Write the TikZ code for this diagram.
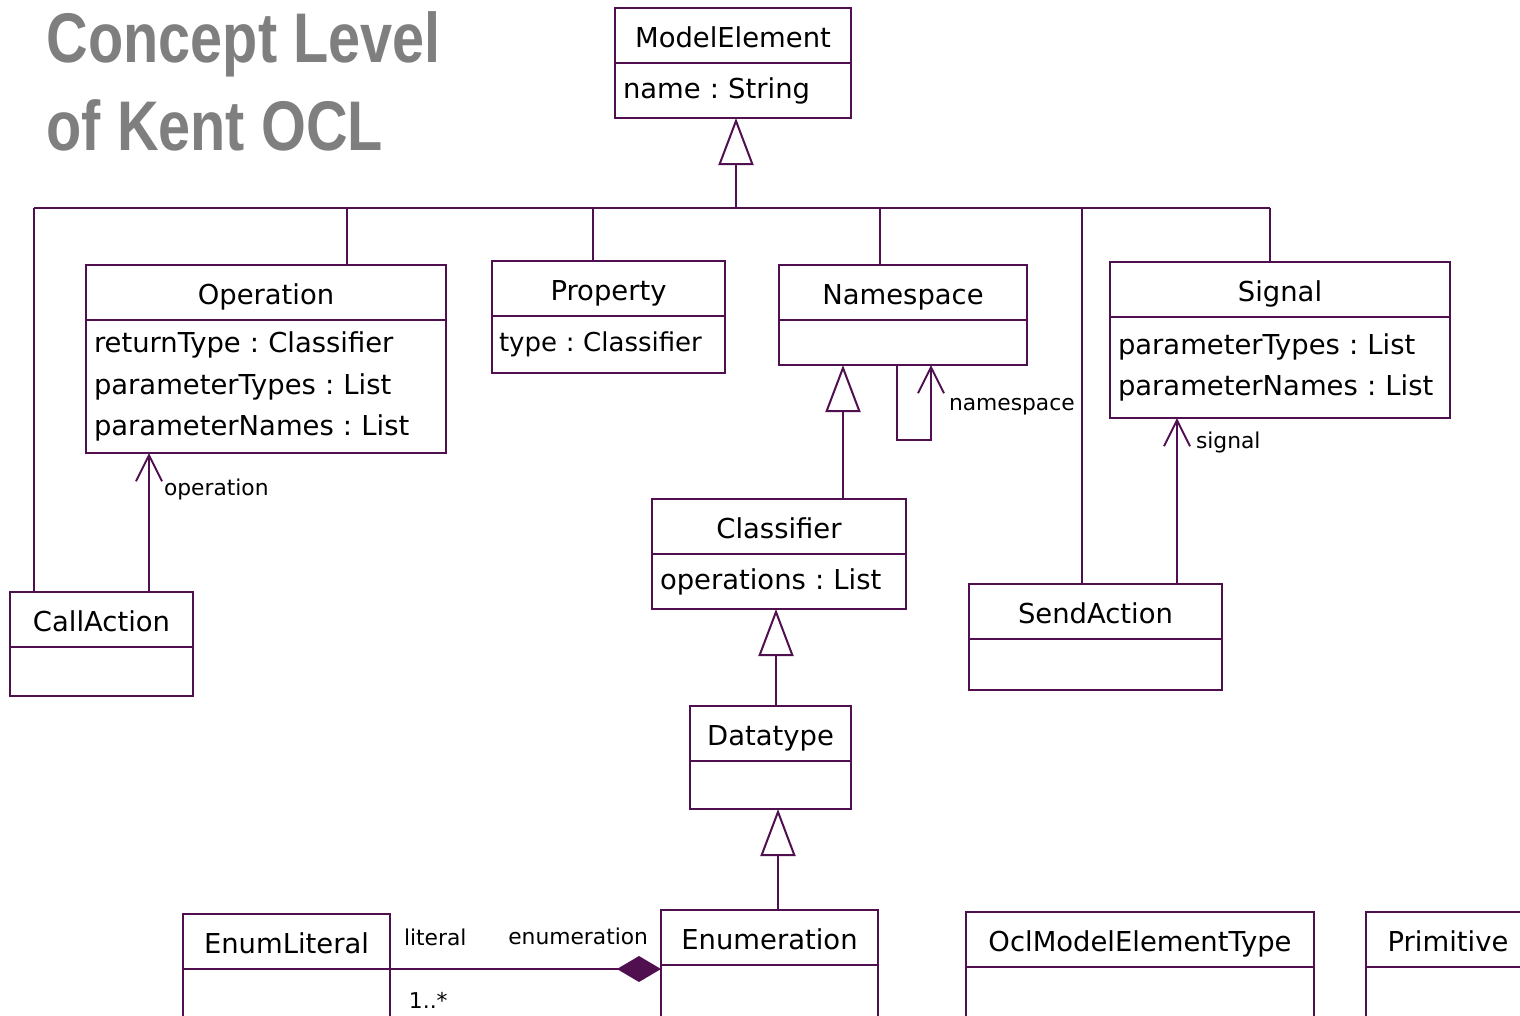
\documentclass[tikz,border=0pt]{standalone}
\usepackage{fontspec}
\setmainfont{DejaVu Sans}
\newfontfamily\titlefont{Liberation Sans}[FakeStretch=0.82]
\usetikzlibrary{arrows.meta,positioning}
\definecolor{umlline}{RGB}{80,16,80}
\definecolor{titlegray}{RGB}{127,127,127}
\frenchspacing

\tikzset{
  classhead/.style={draw=umlline,line width=0.2mm,anchor=north west,minimum height=0.55cm,
    inner sep=0pt,outer sep=0pt,text height=6.6pt,text depth=0pt,font=\fontsize{7.8}{9}\selectfont},
  classbody/.style={draw=umlline,line width=0.2mm,anchor=north,inner xsep=0.08cm,inner ysep=0pt,
    outer sep=0pt,align=left,font=\fontsize{7.8}{11.9}\selectfont},
  umlconn/.style={draw=umlline,line width=0.2mm},
  gen/.style={umlconn,-{Triangle[open,length=0.47cm,width=0.35cm,fill=white]}},
  assoc/.style={umlconn,-{Straight Barb[length=0.26cm,width=0.26cm]}},
  comp/.style={umlconn,{Diamond[length=0.44cm,width=0.26cm,fill=umlline]}-},
  rolelabel/.style={font=\fontsize{6.2}{7}\selectfont,inner sep=0pt},
  titletext/.style={font=\titlefont\bfseries\fontsize{20}{25}\selectfont,text=titlegray,
    anchor=base west,inner sep=0pt}
}

\begin{document}
\begin{tikzpicture}
  \useasboundingbox (0,0) rectangle (15.2,-10.15);
  \clip (0,0) rectangle (15.2,-10.15);

  \node[titletext] (title1) at (0.46,-0.62) {Concept Level};
  \node[titletext] (title2) at (0.46,-1.50) {of Kent OCL};

  % classes
  \node[classhead,minimum width=2.36cm] (me) at (6.15,-0.08) {ModelElement};
  \node[classbody,text width=2.20cm,minimum height=0.55cm] (meb) at (me.south) {name : String};

  \node[classhead,minimum width=3.60cm] (op) at (0.86,-2.65) {Operation};
  \node[classbody,text width=3.44cm,minimum height=1.33cm] (opb) at (op.south)
    {returnType : Classifier\\parameterTypes : List\\parameterNames : List};

  \node[classhead,minimum width=2.33cm] (pr) at (4.92,-2.61) {Property};
  \node[classbody,text width=2.19cm,inner xsep=0.07cm,minimum height=0.57cm,
    font=\fontsize{7.4}{11.9}\selectfont] (prb) at (pr.south) {type : Classifier};

  \node[classhead,minimum width=2.48cm] (ns) at (7.79,-2.65) {Namespace};
  \node[classbody,text width=2.32cm,minimum height=0.45cm] (nsb) at (ns.south) {};

  \node[classhead,minimum width=3.40cm] (sg) at (11.10,-2.62) {Signal};
  \node[classbody,text width=3.24cm,minimum height=1.01cm] (sgb) at (sg.south)
    {parameterTypes : List\\parameterNames : List};

  \node[classhead,minimum width=1.83cm] (ca) at (0.10,-5.92) {CallAction};
  \node[classbody,text width=1.67cm,minimum height=0.49cm] (cab) at (ca.south) {};

  \node[classhead,minimum width=2.54cm] (cl) at (6.52,-4.99) {Classifier};
  \node[classbody,text width=2.38cm,minimum height=0.55cm] (clb) at (cl.south) {operations : List};

  \node[classhead,minimum width=2.53cm] (sa) at (9.69,-5.84) {SendAction};
  \node[classbody,text width=2.37cm,minimum height=0.51cm] (sab) at (sa.south) {};

  \node[classhead,minimum width=1.61cm] (dt) at (6.90,-7.06) {Datatype};
  \node[classbody,text width=1.45cm,minimum height=0.48cm] (dtb) at (dt.south) {};

  \node[classhead,minimum width=2.17cm] (en) at (6.61,-9.10) {Enumeration};
  \node[classbody,text width=2.01cm,minimum height=0.60cm] (enb) at (en.south) {};

  \node[classhead,minimum width=2.07cm] (el) at (1.83,-9.14) {EnumLiteral};
  \node[classbody,text width=1.91cm,minimum height=0.60cm] (elb) at (el.south) {};

  \node[classhead,minimum width=3.48cm] (oc) at (9.66,-9.12) {OclModelElementType};
  \node[classbody,text width=3.32cm,minimum height=0.60cm] (ocb) at (oc.south) {};

  \node[classhead,minimum width=1.64cm] (pm) at (13.66,-9.12) {Primitive};
  \node[classbody,text width=1.48cm,minimum height=0.60cm] (pmb) at (pm.south) {};

  % generalisation tree to ModelElement
  \coordinate (gME) at (7.36,-2.08);
  \coordinate (b1) at (0.34,-2.08);
  \coordinate (b2) at (3.47,-2.08);
  \coordinate (b3) at (5.93,-2.08);
  \coordinate (b4) at (8.80,-2.08);
  \coordinate (b5) at (10.82,-2.08);
  \coordinate (b6) at (12.70,-2.08);
  \draw[gen] (gME) -- (gME |- meb.south);
  \draw[umlconn] (b1) -- (b6);
  \foreach \b/\n in {b1/ca,b2/op,b3/pr,b4/ns,b5/sa,b6/sg}
    \draw[umlconn] (\b) -- (\b |- \n.north);

  % other generalisations
  \coordinate (gCl) at (8.43,0);
  \coordinate (gDt) at (7.76,0);
  \coordinate (gEn) at (7.78,0);
  \draw[gen] (cl.north -| gCl) -- (nsb.south -| gCl);
  \draw[gen] (dt.north -| gDt) -- (clb.south -| gDt);
  \draw[gen] (en.north -| gEn) -- (dtb.south -| gEn);

  % associations
  \coordinate (aOp) at (1.49,0);
  \coordinate (aSg) at (11.77,0);
  \coordinate (lA) at (8.97,0);
  \coordinate (lB) at (9.31,0);
  \draw[assoc] (ca.north -| aOp) -- node[rolelabel,pos=0.74,right=0.14cm] {operation} (opb.south -| aOp);
  \draw[assoc] (sa.north -| aSg) -- node[rolelabel,pos=0.85,right=0.18cm] {signal} (sgb.south -| aSg);
  \draw[assoc] (nsb.south -| lA) -- ++(0,-0.75) -| node[rolelabel,pos=0.72,right=0.17cm] {namespace} (nsb.south -| lB);

  % composition
  \draw[comp] (en.west |- el.south east) -- (el.south east)
    node[rolelabel,pos=0,above left=0.23cm and 0.12cm] {enumeration}
    node[rolelabel,pos=1,above right=0.22cm and 0.13cm] {literal}
    node[rolelabel,pos=1,below right=0.22cm and 0.18cm] {1..*};
\end{tikzpicture}
\end{document}
